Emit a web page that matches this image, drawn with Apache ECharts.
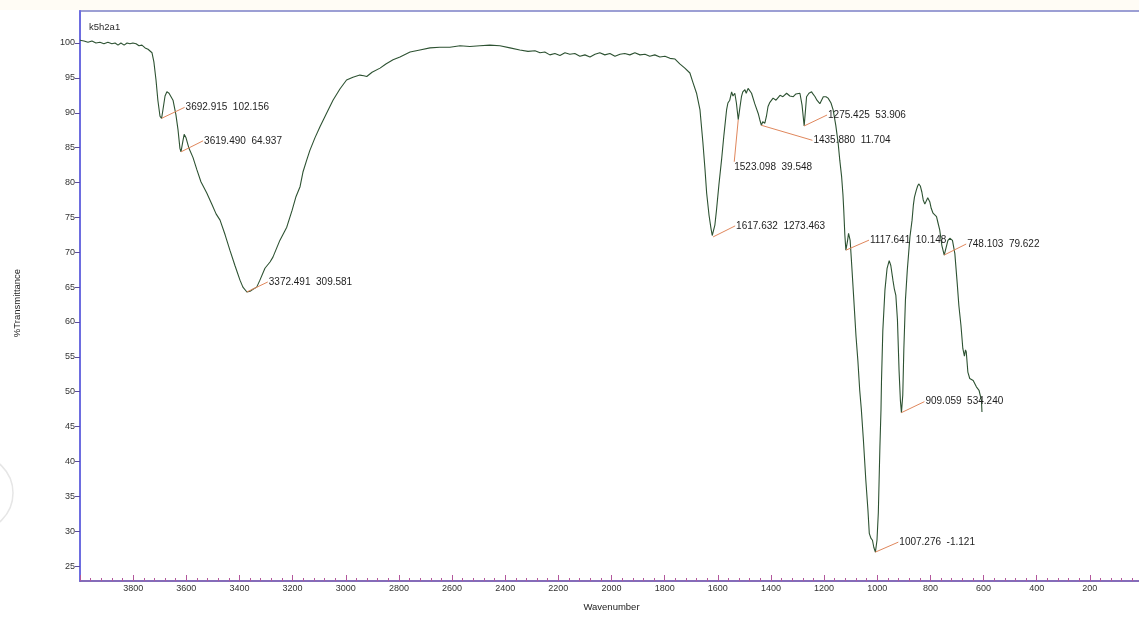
<!DOCTYPE html>
<html>
<head>
<meta charset="utf-8">
<script src="https://cdn.jsdelivr.net/npm/echarts@6/dist/echarts.min.js"></script>
<style>
html,body{margin:0;padding:0;background:#ffffff;}
#c{width:1139px;height:619px;}
</style>
</head>
<body>
<div id="c"></div>
<script>
// ---- data ----
const chartTitle = 'k5h2a1';
const xAxisName = 'Wavenumber';
const yAxisName = '%Transmittance';

const wavenumbers = [
  4000,3985,3970,3955,3940,3925,3910,3895,3880,3868,3857,3846,3834,3823,3812,3801,3789,3778,3767,3755,
  3744,3737,3729,3722,3714,3707,3699,3693,3688,3680,3673,3665,3658,3650,3639,3631,3624,3620,3612,3608,
  3601,3590,3575,3560,3545,3523,3503,3488,3473,3454,3436,3417,3398,3387,3372,3360,3349,3335,3323,3304,
  3285,3274,3248,3222,3202,3187,3172,3161,3147,3135,3116,3097,3074,3048,3022,2997,2973,2947,2932,2921,
  2901,2871,2849,2822,2796,2758,2721,2683,2646,2608,2570,2533,2495,2458,2420,2382,2345,2314,2288,2269,
  2251,2232,2213,2194,2175,2157,2138,2119,2100,2081,2062,2044,2025,2006,1987,1968,1950,1931,1912,1893,
  1874,1856,1837,1818,1799,1780,1761,1743,1724,1705,1694,1680,1667,1656,1648,1642,1633,1626,1621,1618,
  1611,1605,1596,1586,1577,1567,1562,1555,1548,1543,1536,1530,1523,1517,1511,1506,1498,1493,1486,1480,
  1473,1461,1448,1442,1436,1431,1423,1417,1411,1404,1392,1381,1366,1355,1341,1329,1316,1306,1291,1283,
  1275,1270,1266,1257,1247,1242,1234,1227,1216,1203,1193,1185,1174,1166,1156,1147,1141,1134,1129,1126,
  1122,1118,1112,1108,1102,1096,1088,1080,1073,1066,1060,1052,1043,1035,1030,1024,1018,1013,1007,1001,
  996,993,990,986,984,979,971,963,955,949,941,936,930,924,918,913,909,904,900,894,
  887,877,869,864,860,853,848,844,838,832,827,821,815,810,802,797,790,784,777,772,
  765,757,748,740,734,727,717,708,699,693,685,678,672,668,665,659,652,639,627,617,
  610,608,606
];
const transmittance = [
  100.4,100.3,100.1,100.3,100.0,100.1,99.9,100.1,99.9,100.0,99.7,100.0,99.7,100.0,99.9,100.0,99.9,99.6,99.7,99.3,
  99.1,99.0,98.6,97.3,94.7,91.8,89.5,89.2,90.4,92.4,93.0,92.8,93.0,91.8,89.7,87.5,84.9,84.4,86.1,86.9,
  86.4,84.9,83.6,81.8,80.1,78.5,76.8,75.5,74.6,72.5,70.3,68.1,66.0,65.0,64.3,64.4,64.7,65.0,66.0,67.7,
  68.6,69.3,71.7,73.6,76.0,78.0,79.4,81.5,83.2,84.6,86.4,88.0,89.8,91.8,93.4,94.7,95.1,95.4,95.3,95.2,
  95.8,96.4,97.0,97.6,98.0,98.7,99.0,99.3,99.4,99.4,99.6,99.5,99.6,99.7,99.6,99.3,99.0,98.8,98.9,98.6,
  98.7,98.3,98.5,98.2,98.6,98.4,98.5,98.1,98.3,98.0,98.4,98.6,98.3,98.5,98.1,98.4,98.5,98.3,98.6,98.3,
  98.4,98.1,98.3,98.0,98.1,97.8,97.7,97.0,96.4,95.7,94.4,92.8,90.4,85.7,81.8,78.5,75.3,73.5,72.4,72.2,
  73.9,76.0,79.6,83.2,86.8,90.4,91.4,91.8,93.0,92.4,92.8,91.4,89.0,90.7,92.3,93.0,93.3,92.8,93.5,93.3,
  92.8,91.3,89.9,89.0,88.2,88.7,88.5,89.5,90.9,91.5,92.1,91.8,92.5,92.3,92.8,92.4,92.3,92.7,92.8,91.1,
  88.1,90.4,92.3,92.8,93.0,92.7,92.3,91.8,91.3,92.3,92.3,92.1,91.4,90.4,88.2,85.6,83.2,80.8,78.2,76.0,
  72.5,70.3,71.6,72.7,71.7,68.1,63.1,58.0,54.5,50.2,47.5,43.0,37.3,33.0,29.7,29.0,28.7,27.7,27.0,28.7,
  32.6,37.3,42.1,47.3,51.6,58.8,64.6,67.7,68.8,68.1,66.0,64.8,63.8,60.3,53.1,48.8,47.0,49.5,56.0,63.1,
  67.4,72.2,74.6,76.8,77.9,78.9,79.5,79.8,79.5,78.6,77.5,76.9,77.0,77.8,77.2,76.3,75.6,75.8,75.1,74.3,
  73.2,71.0,69.6,70.8,71.7,72.0,71.7,69.8,65.5,62.4,59.5,56.2,55.1,56.0,55.7,52.8,51.9,51.6,50.7,50.2,
  49.1,48.8,47.1
];

// picked peaks: wavenumber (from label), %T, intensity text from label
const peakWavenumbers = [3692.915, 3619.490, 3372.491, 1617.632, 1523.098, 1435.880, 1275.425, 1117.641, 748.103, 909.059, 1007.276];
const peakTransmittance = [89.2, 84.4, 64.3, 72.2, 89.0, 88.2, 88.1, 70.3, 69.6, 47.0, 27.0];
const peakIntensities = ['102.156', '64.937', '309.581', '1273.463', '39.548', '11.704', '53.906', '10.148', '79.622', '534.240', '-1.121'];

const xTickValues = [3800, 3600, 3400, 3200, 3000, 2800, 2600, 2400, 2200, 2000, 1800, 1600, 1400, 1200, 1000, 800, 600, 400, 200];
const yTickValues = [25, 30, 35, 40, 45, 50, 55, 60, 65, 70, 75, 80, 85, 90, 95, 100];

// ---- layout (label leader offsets in pixels, not data) ----
const leaderOffsets = [[23,-11],[22,-11],[21,-10],[22,-11],[-4,42],[51,15],[23,-11],[23,-10],[22,-11],[23,-11],[23,-10]];

const FONT = '"Liberation Sans", Arial, Helvetica, sans-serif';
const chart = echarts.init(document.getElementById('c'), null, {renderer: 'canvas'});

const lineData = wavenumbers.map((w, i) => [w, transmittance[i]]);
const peakData = peakWavenumbers.map((w, i) => [w, peakTransmittance[i]]);
const peakLabels = peakWavenumbers.map((w, i) => w.toFixed(3) + '  ' + peakIntensities[i]);

const option = {
  animation: false,
  backgroundColor: '#ffffff',
  title: {
    text: chartTitle, left: 89, top: 22, padding: 0,
    textStyle: {fontSize: 9.5, fontWeight: 'normal', color: '#2a2a2a', fontFamily: FONT}
  },
  graphic: [
    {type: 'rect', shape: {x: 0, y: 0, width: 1139, height: 10}, style: {fill: '#fffcf5'}, silent: true, z: -10},
    {type: 'circle', shape: {cx: -25, cy: 493, r: 38}, style: {fill: 'none', stroke: '#e6e6e6', lineWidth: 1.5}, silent: true}
  ],
  grid: {left: 80, width: 1063, top: 11, bottom: 38, show: true, borderColor: '#7c80c6', borderWidth: 1.5,
         backgroundColor: 'transparent', containLabel: false, outerBoundsMode: 'none'},
  xAxis: {
    type: 'value', inverse: true, min: 0, max: 4000, interval: 200,
    name: xAxisName, nameLocation: 'middle', nameGap: 21,
    nameTextStyle: {fontSize: 9.5, color: '#222', fontFamily: FONT},
    axisLine: {show: true, onZero: false, lineStyle: {color: '#7d5cb0', width: 1.5}},
    axisTick: {show: true, inside: true, length: 6, lineStyle: {color: '#b2579c', width: 1}},
    minorTick: {show: true, splitNumber: 5, length: 3, lineStyle: {color: '#b2579c', width: 1}},
    axisLabel: {customValues: xTickValues, margin: 3, fontSize: 9, color: '#333', fontFamily: FONT,
                formatter: function (v) { return String(v); }},
    splitLine: {show: false}, minorSplitLine: {show: false}
  },
  yAxis: {
    type: 'value', min: 22.86, max: 104.59,
    name: yAxisName, nameLocation: 'middle', nameGap: 58, nameRotate: 90,
    nameTextStyle: {fontSize: 9.5, color: '#222', fontFamily: FONT, padding: [0, 14, 0, 0]},
    axisLine: {show: true, onZero: false, lineStyle: {color: '#6d6de0', width: 2}},
    axisTick: {show: true, inside: false, length: 5, customValues: yTickValues, lineStyle: {color: '#5b4f9e', width: 1}},
    axisLabel: {customValues: yTickValues, margin: 5, fontSize: 9, color: '#333', fontFamily: FONT,
                formatter: function (v) { return String(v); }},
    splitLine: {show: false}
  },
  series: [
    {
      type: 'line', data: lineData, showSymbol: false, symbol: 'none', smooth: false,
      lineStyle: {color: '#2d5232', width: 1.1}, z: 3
    },
    {
      type: 'custom', data: peakData, z: 4,
      renderItem: function (params, api) {
        const i = params.dataIndex;
        const p = api.coord([api.value(0), api.value(1)]);
        const off = leaderOffsets[i];
        const e = [p[0] + off[0], p[1] + off[1]];
        const below = off[1] > 0 && Math.abs(off[0]) < 10;
        return {
          type: 'group',
          children: [
            {type: 'line', shape: {x1: p[0], y1: p[1], x2: e[0], y2: e[1]}, style: {stroke: '#e0875c', lineWidth: 1}},
            {type: 'text', x: e[0] + (below ? 0 : 1), y: e[1] + (below ? 1 : 0),
             style: {text: peakLabels[i], fill: '#1e1e1e', font: '10px ' + FONT, align: 'left', verticalAlign: below ? 'top' : 'middle'}}
          ]
        };
      }
    }
  ]
};
chart.setOption(option);
</script>
</body>
</html>
